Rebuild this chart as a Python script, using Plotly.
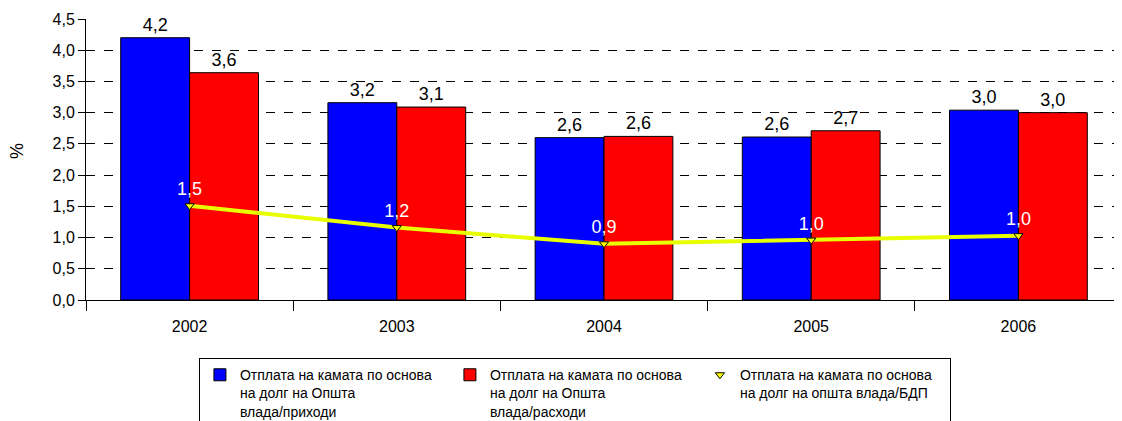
import plotly.graph_objects as go

# values
years = ["2002", "2003", "2004", "2005", "2006"]
revenue_share = [4.2, 3.16, 2.6, 2.61, 3.04]
expense_share = [3.64, 3.09, 2.62, 2.71, 3.0]
gdp_share = [1.51, 1.16, 0.9, 0.96, 1.03]

name_rev = "Отплата на камата по основа<br>на долг на Општа<br>влада/приходи"
name_exp = "Отплата на камата по основа<br>на долг на Општа<br>влада/расходи"
name_gdp = "Отплата на камата по основа<br>на долг на општа влада/БДП"

font = "Liberation Sans, Arial, sans-serif"

fig = go.Figure()
fig.add_trace(go.Bar(
    x=years, y=revenue_share, name=name_rev,
    marker=dict(color="#0000FF", line=dict(color="black", width=1)),
    texttemplate="%{y:.1f}", textposition="outside",
    textfont=dict(size=18, color="black"), cliponaxis=False,
))
fig.add_trace(go.Bar(
    x=years, y=expense_share, name=name_exp,
    marker=dict(color="#FF0000", line=dict(color="black", width=1)),
    texttemplate="%{y:.1f}", textposition="outside",
    textfont=dict(size=18, color="black"), cliponaxis=False,
))
fig.add_trace(go.Scatter(
    x=years, y=gdp_share, mode="lines+markers+text", showlegend=False,
    line=dict(color="#E8FF00", width=4),
    marker=dict(symbol="triangle-down", size=8, color="#FFFF00",
                line=dict(color="black", width=1)),
    texttemplate="%{y:.1f}", textposition="top center",
    textfont=dict(size=18, color="white"),
))
# legend entry for the line shows only the marker
fig.add_trace(go.Scatter(
    x=[None], y=[None], mode="markers", name=name_gdp,
    marker=dict(symbol="triangle-down", size=8, color="#FFFF00",
                line=dict(color="black", width=1)),
))

# the page body adds 8px around the figure, so size/margins allow for that
fig.update_layout(
    width=1114, height=413,
    margin=dict(l=78, r=0, t=11, b=121, autoexpand=False),
    paper_bgcolor="white", plot_bgcolor="white",
    font=dict(family=font, size=15, color="black"),
    separators=", ",
    barmode="group", bargap=0.335, bargroupgap=0,
    legend=dict(
        orientation="h", x=0.109, xanchor="left", y=-0.207, yanchor="top",
        bordercolor="black", borderwidth=1, bgcolor="white",
        font=dict(size=14), entrywidth=205, itemwidth=30, tracegroupgap=0,
        traceorder="normal", valign="top",
    ),
    xaxis=dict(
        type="category", showline=True, linecolor="black", linewidth=1,
        ticks="outside", tickson="boundaries", ticklen=10,
        tickcolor="black", showgrid=False, tickfont=dict(size=16),
        ticklabelstandoff=12, automargin=False,
    ),
    yaxis=dict(
        range=[0, 4.5], dtick=0.5, tickformat=".1f",
        showline=True, linecolor="black", linewidth=1,
        ticks="outside", ticklen=7, tickcolor="black",
        showgrid=True, gridcolor="black", griddash="dash", gridwidth=1,
        zeroline=False, tickfont=dict(size=16), automargin=False,
    ),
    annotations=[dict(
        text="%", xref="paper", yref="paper", x=-0.0666, y=0.53,
        xanchor="center", yanchor="middle", textangle=-90,
        showarrow=False, font=dict(size=18),
    )],
)

fig.write_html("out.html")
